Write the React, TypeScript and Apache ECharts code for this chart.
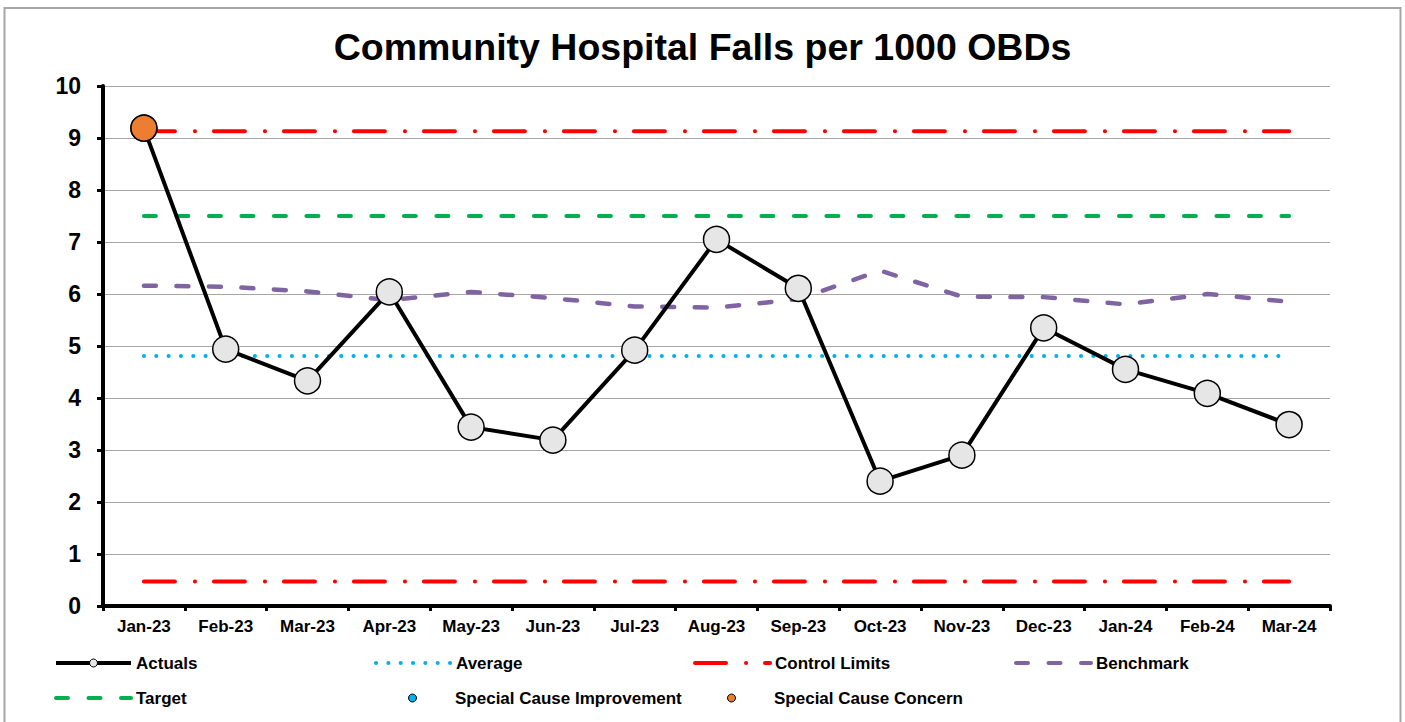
import React, { useEffect, useRef } from 'react';
import * as echarts from 'echarts';

const categories = ['Jan-23', 'Feb-23', 'Mar-23', 'Apr-23', 'May-23', 'Jun-23', 'Jul-23', 'Aug-23', 'Sep-23', 'Oct-23', 'Nov-23', 'Dec-23', 'Jan-24', 'Feb-24', 'Mar-24'];
const actuals = [9.19, 4.94, 4.33, 6.04, 3.44, 3.19, 4.92, 7.05, 6.11, 2.40, 2.90, 5.35, 4.55, 4.09, 3.49];
const benchmark = [6.16, 6.14, 6.05, 5.88, 6.04, 5.92, 5.76, 5.74, 5.90, 6.45, 5.95, 5.94, 5.80, 6.00, 5.85];
const average = [4.81, 4.81, 4.81, 4.81, 4.81, 4.81, 4.81, 4.81, 4.81, 4.81, 4.81, 4.81, 4.81, 4.81, 4.81];
const upperControl = [9.13, 9.13, 9.13, 9.13, 9.13, 9.13, 9.13, 9.13, 9.13, 9.13, 9.13, 9.13, 9.13, 9.13, 9.13];
const lowerControl = [0.47, 0.47, 0.47, 0.47, 0.47, 0.47, 0.47, 0.47, 0.47, 0.47, 0.47, 0.47, 0.47, 0.47, 0.47];
const target = [7.5, 7.5, 7.5, 7.5, 7.5, 7.5, 7.5, 7.5, 7.5, 7.5, 7.5, 7.5, 7.5, 7.5, 7.5];
const specialImprovement = [null, null, null, null, null, null, null, null, null, null, null, null, null, null, null];
const specialConcern = [9.19, null, null, null, null, null, null, null, null, null, null, null, null, null, null];
const yTicks = { min: 0, max: 10, interval: 1 };

const FONT = "'Liberation Sans', Arial, Helvetica, sans-serif";

const legendItem = (name: string, left: number, top: number, extra: any = {}) => ({
  data: [name],
  left,
  top,
  padding: 0,
  itemWidth: 75,
  itemHeight: 10,
  selectedMode: false,
  textStyle: { fontFamily: FONT, fontWeight: 'bold', fontSize: 17, color: '#000', lineHeight: 20 },
  lineStyle: { width: 4 },
  itemStyle: { borderWidth: 1 },
  ...extra,
});

const noSymbol = { itemStyle: { opacity: 0, borderWidth: 0 } };

export default function App() {
  const ref = useRef<HTMLDivElement>(null);
  useEffect(() => {
    const chart = echarts.init(ref.current!, null, { renderer: 'svg' });
    const row1 = 653;
    const row2 = 688;
    chart.setOption({
      animation: false,
      backgroundColor: '#fff',
      title: {
        text: 'Community Hospital Falls per 1000 OBDs',
        left: 'center',
        top: 23,
        textStyle: { fontFamily: FONT, fontWeight: 'bold', fontSize: 37.5, color: '#000' },
      },
      graphic: [
        {
          type: 'rect',
          shape: { x: 4.5, y: 8, width: 1396, height: 730 },
          style: { fill: 'none', stroke: '#A6A6A6', lineWidth: 2 },
          silent: true,
        },
      ],
      legend: [
        legendItem('Actuals', 54, row1),
        legendItem('Average', 374, row1, noSymbol),
        legendItem('Control Limits', 693, row1, noSymbol),
        legendItem('Benchmark', 1014, row1, noSymbol),
        legendItem('Target', 54, row2, noSymbol),
        legendItem('Special Cause Improvement', 408, row2, { itemHeight: 8 }),
        legendItem('Special Cause Concern', 727, row2, { itemHeight: 8 }),
      ],
      grid: { left: 103, right: 75, top: 86, bottom: 116 },
      xAxis: {
        type: 'category',
        data: categories,
        boundaryGap: true,
        axisLine: { show: true, lineStyle: { color: '#000', width: 4 } },
        axisTick: { show: true, length: 5, lineStyle: { color: '#000', width: 3 } },
        axisLabel: { interval: 0, margin: 12, fontFamily: FONT, fontWeight: 'bold', fontSize: 17, color: '#000' },
        splitLine: { show: false },
      },
      yAxis: {
        type: 'value',
        min: yTicks.min,
        max: yTicks.max,
        interval: yTicks.interval,
        axisLine: { show: true, lineStyle: { color: '#000', width: 4 } },
        axisTick: { show: true, length: 6, lineStyle: { color: '#000', width: 3 } },
        axisLabel: { margin: 22, fontFamily: FONT, fontWeight: 'bold', fontSize: 23, color: '#000' },
        splitLine: { show: true, lineStyle: { color: '#A6A6A6', width: 1.2 } },
      },
      series: [
        {
          name: 'Average',
          type: 'line',
          data: average,
          symbol: 'none',
          z: 2,
          lineStyle: { color: '#00B0F0', width: 4, type: [0.1, 12.23], cap: 'round' },
          itemStyle: { color: '#00B0F0' },
        },
        {
          name: 'Control Limits',
          type: 'line',
          data: upperControl,
          symbol: 'none',
          z: 2,
          lineStyle: { color: '#FF0000', width: 4, type: [31, 20, 0.1, 18.9], cap: 'round' },
          itemStyle: { color: '#FF0000' },
        },
        {
          name: 'Control Limits',
          type: 'line',
          data: lowerControl,
          symbol: 'none',
          z: 2,
          lineStyle: { color: '#FF0000', width: 4, type: [31, 20, 0.1, 18.9], cap: 'round' },
          itemStyle: { color: '#FF0000' },
        },
        {
          name: 'Benchmark',
          type: 'line',
          data: benchmark,
          symbol: 'none',
          z: 2,
          lineStyle: { color: '#8064A2', width: 4.5, type: [12, 20.5], cap: 'round' },
          itemStyle: { color: '#8064A2' },
        },
        {
          name: 'Target',
          type: 'line',
          data: target,
          symbol: 'none',
          z: 2,
          lineStyle: { color: '#00B050', width: 4, type: [12, 20.5], cap: 'round' },
          itemStyle: { color: '#00B050' },
        },
        {
          name: 'Actuals',
          type: 'line',
          data: actuals,
          symbol: 'circle',
          symbolSize: 26,
          showAllSymbol: true,
          z: 5,
          lineStyle: { color: '#000', width: 4 },
          itemStyle: { color: '#E6E6E6', borderColor: '#000', borderWidth: 1.5 },
        },
        {
          name: 'Special Cause Improvement',
          type: 'scatter',
          data: specialImprovement,
          symbol: 'circle',
          symbolSize: 26,
          z: 6,
          itemStyle: { color: '#00B0F0', borderColor: '#000', borderWidth: 1.5, opacity: 1 },
        },
        {
          name: 'Special Cause Concern',
          type: 'scatter',
          data: specialConcern,
          symbol: 'circle',
          symbolSize: 26,
          z: 6,
          itemStyle: { color: '#ED7D31', borderColor: '#000', borderWidth: 1.5, opacity: 1 },
        },
      ],
    });
    return () => chart.dispose();
  }, []);
  return (
    <div
      ref={ref}
      style={{ position: 'fixed', left: 0, top: 0, width: 1405, height: 722, background: '#fff' }}
    />
  );
}
